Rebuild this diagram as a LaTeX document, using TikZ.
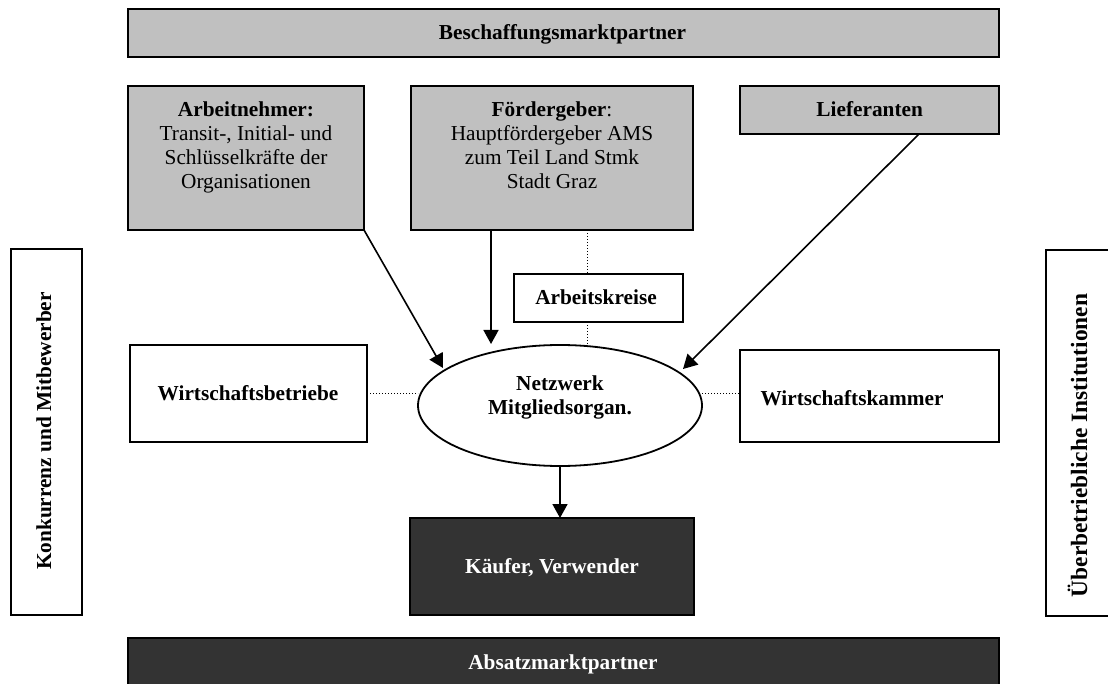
\documentclass[tikz,border=0pt]{standalone}
\usepackage{fontspec}
\setmainfont{Liberation Serif}
\usetikzlibrary{shapes.geometric,arrows.meta}

\definecolor{boxgray}{HTML}{C0C0C0}
\definecolor{boxdark}{HTML}{333333}
% invisible strut fixing the top of the first text line
\newcommand\firstlinestrut{\rule{0pt}{18pt}}

\tikzset{
  panel/.style={draw=black, line width=1.8pt, inner sep=0pt, outer sep=0pt},
  graypanel/.style={panel, fill=boxgray},
  darkpanel/.style={panel, fill=boxdark},
  whitepanel/.style={panel, fill=white},
  label/.style={inner sep=0pt, outer sep=0pt, anchor=base,
    font=\fontsize{21.3}{24}\selectfont\bfseries},
  block/.style={inner sep=0pt, outer sep=0pt, anchor=north, align=center,
    font=\fontsize{21.3}{24}\selectfont},
  flow/.style={line width=1.6pt, -{Triangle[length=14pt,width=15pt]}},
  link/.style={line width=1pt, dotted},
}

\begin{document}
\begin{tikzpicture}[x=1pt, y=-1pt]
\useasboundingbox (0,0) rectangle (1108,684);
\clip (0,0) rectangle (1108,684);

% market partner bars
\node[graypanel, minimum width=871pt, minimum height=48pt] (besch) at (563.5,33) {};
\node[darkpanel, minimum width=871pt, minimum height=62pt] (absatz) at (563.5,669) {};

% upper row
\node[graypanel, minimum width=236pt, minimum height=144pt] (arb) at (246,158) {};
\node[graypanel, minimum width=282pt, minimum height=144pt] (foer) at (552,158) {};
\node[graypanel, minimum width=259pt, minimum height=48pt] (lief) at (869.5,110) {};

% middle row
\node[whitepanel, minimum width=169pt, minimum height=48pt] (ak) at (598.5,298) {};
\node[whitepanel, minimum width=237pt, minimum height=97pt] (wb) at (248.5,393.5) {};
\node[whitepanel, minimum width=259pt, minimum height=92pt] (wk) at (869.5,396) {};
\node[panel, ellipse, fill=white, minimum width=284pt, minimum height=121pt] (netz) at (560,405.5) {};

% buyers
\node[darkpanel, minimum width=284pt, minimum height=97pt] (kaeufer) at (552,566.5) {};

% side columns
\node[whitepanel, minimum width=71pt, minimum height=366pt] (konk) at (46.5,432) {};
\node[whitepanel, minimum width=71pt, minimum height=366pt] (ueber) at (1081.5,433) {};

% texts
\node[label] (besch-t) at (562.5,40) {Beschaffungsmarktpartner};
\node[label, text=white] (absatz-t) at (563,669) {Absatzmarktpartner};
\node[block] (arb-t) at (246,99) {\firstlinestrut\textbf{Arbeitnehmer:}\\Transit-, Initial- und\\Schlüsselkräfte der\\Organisationen};
\node[block] (foer-t) at (552,99) {\firstlinestrut\textbf{Fördergeber}:\\Hauptfördergeber AMS\\zum Teil Land Stmk\\Stadt Graz};
\node[label] (lief-t) at (869.7,117) {Lieferanten};
\node[label] (ak-t) at (596,304.5) {Arbeitskreise};
\node[label] (wb-t) at (248,400) {Wirtschaftsbetriebe};
\node[label] (wk-t) at (852,405) {Wirtschaftskammer};
\node[block, font=\fontsize{21.3}{24}\selectfont\bfseries] (netz-t) at (560,372.7) {\firstlinestrut Netzwerk\\Mitgliedsorgan.};
\node[label, text=white] (kaeufer-t) at (552,573) {Käufer, Verwender};
\node[label, rotate=90] (konk-t) at (51,431) {Konkurrenz und Mitbewerber};
\node[label, rotate=90, font=\fontsize{23.4}{26}\selectfont\bfseries] (ueber-t) at (1087,445.5) {Überbetriebliche Institutionen};

% arrow ends
\coordinate (arb-tip) at (443,368);
\coordinate (foer-tip) at (491,344);
\coordinate (lief-tip) at (683,369);

% flows into and out of the network
\draw[flow] (arb.south east) -- (arb-tip);
\draw[flow] (foer.south -| foer-tip) -- (foer-tip);
\draw[flow] ([xshift=49.5pt]lief.south) -- (lief-tip);
\draw[flow] (netz.south) -- (kaeufer.north -| netz.south);

% dotted relations
\draw[link] (wb.east) -- (wb.east -| netz.west);
\draw[link] (netz.east |- wb.east) -- (wk.west |- wb.east);
\draw[link] ([xshift=-11.5pt]foer.south -| ak.north) -- ([xshift=-11.5pt]ak.north);
\draw[link] ([xshift=-11.5pt]ak.south) -- ([xshift=-11.5pt]ak.south |- netz.north);
\end{tikzpicture}
\end{document}
